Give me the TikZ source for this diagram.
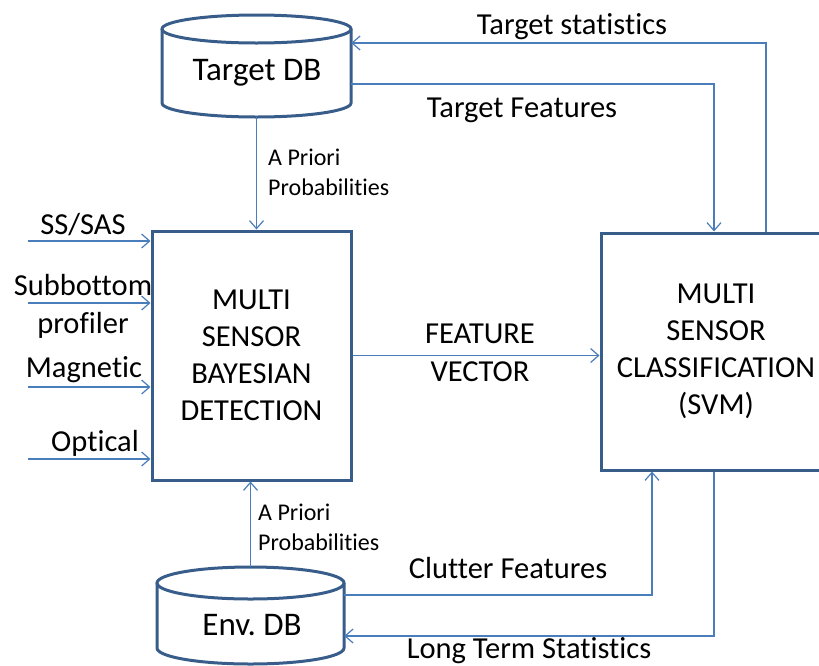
\documentclass[tikz,border=0pt]{standalone}
\usepackage{fontspec}
\setmainfont{Carlito}[Ligatures={NoCommon}]
\usetikzlibrary{arrows.meta}
\definecolor{boxc}{HTML}{385D8A}
\definecolor{linec}{HTML}{4A7EBB}
\frenchspacing
\begin{document}
\begin{tikzpicture}[x=1pt,y=-1pt,
  blockbox/.style={draw=boxc, line width=3pt, align=center, inner sep=0pt,
    font=\fontsize{30.5}{37}\selectfont},
  dbbody/.style={inner sep=0pt},
  dbtext/.style={font=\fontsize{33}{38}\selectfont, inner sep=0pt},
  cyl/.style={draw=boxc, line width=3pt},
  conn/.style={draw=linec, line width=1.2pt, -{Straight Barb[length=8pt,width=14pt]}},
  lbl/.style={font=\fontsize{30.5}{38}\selectfont, inner sep=0pt, align=center},
  smalllbl/.style={font=\fontsize{24}{30}\selectfont, inner sep=0pt, align=left}]
\useasboundingbox (0,0) rectangle (819,665);

% blocks
\node[blockbox, minimum width=199pt, minimum height=249pt] (det) at (251.5,355.5)
  {MULTI\\SENSOR\\BAYESIAN\\DETECTION};
\node[blockbox, minimum width=230pt, minimum height=237pt] (cls) at (716,351.5)
  {MULTI\\SENSOR\\CLASSIFICATION\\(SVM)};

% Target DB cylinder
\node[dbbody, minimum width=189pt, minimum height=102pt] (tdb) at (256.5,66) {};
\draw[cyl] (162,29) -- (162,103) arc[start angle=180, end angle=360, x radius=94.5pt, y radius=14pt] -- (351,29);
\draw[cyl] (256.5,29) ellipse [x radius=94.5pt, y radius=14pt];
\node[dbtext] (tdbtext) at (257,73) {Target DB};

% Env DB cylinder
\node[dbbody, minimum width=187pt, minimum height=97pt] (edb) at (250.5,615.5) {};
\draw[cyl] (157,583) -- (157,648) arc[start angle=180, end angle=360, x radius=93.5pt, y radius=16pt] -- (344,583);
\draw[cyl] (250.5,583) ellipse [x radius=93.5pt, y radius=16pt];
\node[dbtext] (edbtext) at (252,625) {Env. DB};

% a priori probabilities
\draw[conn] (tdb.south) -- (tdb.south |- det.north);
\node[smalllbl, anchor=west] (ap1) at (268,172) {A Priori\\Probabilities};
\draw[conn] (edb.north) -- (edb.north |- det.south);
\node[smalllbl, anchor=west] (ap2) at (258,527) {A Priori\\Probabilities};

% sensor inputs
\coordinate (in1) at (28,241);
\coordinate (in2) at (28,303);
\coordinate (in3) at (28,387);
\coordinate (in4) at (28,459);
\draw[conn] (in1) -- (in1 -| det.west);
\draw[conn] (in2) -- (in2 -| det.west);
\draw[conn] (in3) -- (in3 -| det.west);
\draw[conn] (in4) -- (in4 -| det.west);
\node[lbl] (l1) at (83,225) {SS/SAS};
\node[lbl] (l2) at (83,306) {Subbottom\\profiler};
\node[lbl] (l3) at (84,370) {Magnetic};
\node[lbl] (l4) at (95,443) {Optical};

% feature vector
\draw[conn] (det.east) -- (det.east -| cls.west);
\node[lbl] (fv) at (480,353) {FEATURE\\VECTOR};

% target statistics
\coordinate (ts) at (766,43);
\draw[conn] (cls.north -| ts) -- (ts) -- (ts -| tdb.east);
\node[lbl] (tsl) at (572,27) {Target statistics};

% target features
\coordinate (tf) at (714,84);
\draw[conn] (tf -| tdb.east) -- (tf) -- (tf |- cls.north);
\node[lbl] (tfl) at (522,110) {Target Features};

% clutter features
\coordinate (cf) at (652,595);
\draw[conn] (cf -| edb.east) -- (cf) -- (cf |- cls.south);
\node[lbl] (cfl) at (508,568) {Clutter Features};

% long term statistics
\coordinate (lt) at (714,636);
\draw[conn] (lt |- cls.south) -- (lt) -- (lt -| edb.east);
\node[lbl] (ltl) at (529,651) {Long Term Statistics};
\end{tikzpicture}
\end{document}
